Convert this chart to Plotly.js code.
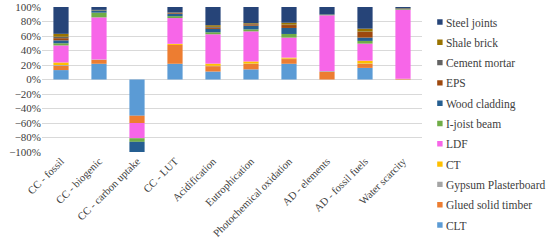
<!DOCTYPE html>
<html>
<head>
<meta charset="utf-8">
<script src="https://cdn.plot.ly/plotly-3.0.1.min.js"></script>
<style>
  html, body { margin: 0; padding: 0; background: #fff; }
  #plot { width: 550px; height: 250px; }
  /* smaller legend swatches, as in the original */
  #plot .legendpoints path { transform: translate(34px, 0) scale(0.45); }
</style>
</head>
<body>
<div id="plot"></div>
<script>
const categories = ["CC - fossil", "CC - biogenic", "CC - carbon uptake", "CC - LUT", "Acidification",
    "Eutrophication", "Photochemical oxidation", "AD - elements", "AD - fossil fuels", "Water scarcity"];

// percent shares per material, same order as categories
const clt = [13, 21.7, -50, 21.7, 11, 14, 21.7, 0, 16, 0];
const glued_timber = [6, 5.5, -10, 26, 7.4, 7.4, 6.5, 10.6, 5.5, 1];
const gypsum = [1, 0.5, 0, 0, 0.5, 0.5, 0.5, 1, 0.5, 0];
const ct = [3.5, 0, 0, 1.5, 3, 3, 1.5, 0, 4, 0];
const ldf = [23.5, 58, -21, 35.5, 40.5, 41.5, 27.6, 77, 23.5, 95];
const ijoist = [3, 6.5, -5, 2.7, 2.8, 2.8, 5, 1, 3.7, 0.5];
const wood_cladding = [4, 3, -14, 3, 4.6, 5, 8.3, 0, 4.6, 0.3];
const eps = [3, 0, 0, 1, 1.5, 2, 4, 0, 7.8, 0];
const cement_mortar = [2, 0.3, 0, 0.5, 1.3, 0.5, 0.5, 0, 0.5, 0.2];
const shale_brick = [4, 0.5, 0, 0.5, 2.3, 1, 2.7, 0, 4, 1];
const steel_joints = [37, 4, 0, 7.6, 25.1, 22.3, 21.7, 10.4, 29.9, 2];

const series = [
    ["CLT", clt, "#5b9bd5"],
    ["Glued solid timber", glued_timber, "#ed7d31"],
    ["Gypsum Plasterboard", gypsum, "#a5a5a5"],
    ["CT", ct, "#ffc000"],
    ["LDF", ldf, "#f766e8"],
    ["I-joist beam", ijoist, "#70ad47"],
    ["Wood cladding", wood_cladding, "#255e91"],
    ["EPS", eps, "#9e480e"],
    ["Cement mortar", cement_mortar, "#636363"],
    ["Shale brick", shale_brick, "#997300"],
    ["Steel joints", steel_joints, "#264478"]
];

// legend lists the top of the stack first
const data = series.map(([name, vals, color], i) => ({
    type: "bar",
    name: name,
    legendgroup: name,
    legendrank: 1000 + series.length - i,
    x: categories,
    y: vals,
    marker: { color: color, line: { width: 0 } },
    hoverinfo: "name+y"
}));

const font_family = "Liberation Serif, DejaVu Serif, serif";

const layout = {
    width: 550,
    height: 250,
    margin: { l: 42, r: 128, t: 7, b: 98, autoexpand: false },
    barmode: "relative",
    bargap: 0.6,
    paper_bgcolor: "#fff",
    plot_bgcolor: "#fff",
    font: { family: font_family, size: 11, color: "#404040" },
    showlegend: true,
    legend: {
        traceorder: "grouped",
        tracegroupgap: 1.3,
        xref: "container",
        x: 0.738,
        xanchor: "left",
        yref: "container",
        y: 0.97,
        yanchor: "top",
        maxheight: 245,
        bgcolor: "rgba(0,0,0,0)",
        font: { family: font_family, size: 11.5, color: "#404040" },
        itemwidth: 30
    },
    xaxis: {
        tickangle: -45,
        automargin: false,
        showgrid: false,
        showline: false,
        ticks: "",
        tickfont: { family: font_family, size: 10.7, color: "#404040" }
    },
    yaxis: {
        range: [-100, 100],
        dtick: 20,
        ticksuffix: "%",
        automargin: false,
        showgrid: true,
        gridcolor: "#d9d9d9",
        zeroline: true,
        zerolinecolor: "#d9d9d9",
        zerolinewidth: 1,
        showline: false,
        ticks: "",
        tickfont: { family: font_family, size: 11, color: "#404040" }
    }
};

Plotly.newPlot("plot", data, layout, { displayModeBar: false, staticPlot: true });
</script>
</body>
</html>
